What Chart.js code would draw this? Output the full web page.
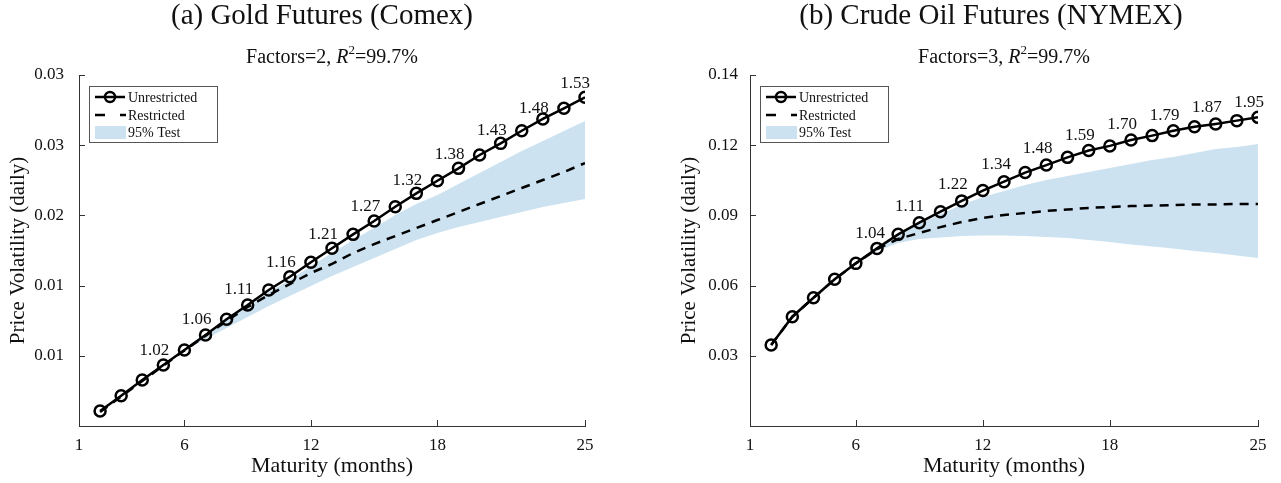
<!DOCTYPE html>
<html>
<head>
<meta charset="utf-8">
<script src="https://cdn.jsdelivr.net/npm/chart.js@4.4.1/dist/chart.umd.min.js"></script>
<style>
  body { margin: 0; background: #fff; }
  #wrap { position: relative; width: 1281px; height: 483px; }
  canvas { position: absolute; top: 0; }
</style>
</head>
<body>
<div id="wrap">
  <canvas id="gold" width="640" height="483" style="left:0"></canvas>
  <canvas id="oil" width="641" height="483" style="left:640px"></canvas>
</div>
<script>
// maturities in months
const months = [2,3,4,5,6,7,8,9,10,11,12,13,14,15,16,17,18,19,20,21,22,23,24,25];
const xTickValues = [1, 6, 12, 18, 25];
const xTickLabels = ["1", "6", "12", "18", "25"];

// (a) gold
const goldUnrestricted = [0.00607,0.00716,0.00828,0.00934,0.01041,0.01148,0.01260,0.01362,0.01469,0.01563,0.01666,0.01766,0.01865,0.01960,0.02062,0.02157,0.02247,0.02335,0.02430,0.02513,0.02603,0.02687,0.02763,0.02841];
const goldRestricted = [0.00600,0.00710,0.00820,0.00930,0.01038,0.01142,0.01248,0.01348,0.01433,0.01511,0.01590,0.01654,0.01732,0.01796,0.01853,0.01910,0.01967,0.02024,0.02081,0.02138,0.02195,0.02252,0.02309,0.02373];
const goldUpper = [0.00600,0.00710,0.00820,0.00930,0.01048,0.01155,0.01262,0.01355,0.01454,0.01540,0.01640,0.01732,0.01825,0.01910,0.02003,0.02081,0.02145,0.02224,0.02302,0.02380,0.02459,0.02530,0.02601,0.02672];
const goldLower = [0.00600,0.00710,0.00820,0.00930,0.01041,0.01120,0.01198,0.01276,0.01355,0.01426,0.01497,0.01568,0.01632,0.01697,0.01761,0.01825,0.01875,0.01917,0.01953,0.01989,0.02024,0.02060,0.02088,0.02117];
const goldYTicks = [0.010, 0.015, 0.020, 0.025, 0.030];
const goldYTickLabels = ["0.01", "0.01", "0.02", "0.03", "0.03"];
const goldLabelMonths = [6,8,10,12,14,16,18,20,22,24,25];
const goldLabels = ["1.02","1.06","1.11","1.16","1.21","1.27","1.32","1.38","1.43","1.48","1.53"];

// (b) crude oil
const oilUnrestricted = [0.0346,0.0467,0.0548,0.0627,0.0695,0.0759,0.0819,0.0869,0.0916,0.0962,0.1006,0.1044,0.1083,0.1115,0.1148,0.1177,0.1197,0.1222,0.1241,0.1262,0.1279,0.1291,0.1305,0.1319];
const oilRestricted = [0.0346,0.0467,0.0548,0.0627,0.0695,0.0756,0.0799,0.0825,0.0850,0.0872,0.0889,0.0902,0.0910,0.0919,0.0925,0.0932,0.0936,0.0940,0.0942,0.0944,0.0947,0.0947,0.0949,0.0949];
const oilUpper = [0.0346,0.0467,0.0548,0.0627,0.0697,0.0756,0.0812,0.0863,0.0906,0.0944,0.0979,0.1004,0.1030,0.1051,0.1068,0.1085,0.1103,0.1120,0.1137,0.1150,0.1167,0.1184,0.1192,0.1205];
const oilLower = [0.0346,0.0467,0.0548,0.0627,0.0693,0.0748,0.0782,0.0799,0.0806,0.0812,0.0814,0.0814,0.0812,0.0808,0.0803,0.0795,0.0786,0.0776,0.0767,0.0759,0.0748,0.0739,0.0729,0.0718];
const oilYTicks = [0.03, 0.06, 0.09, 0.12, 0.15];
const oilYTickLabels = ["0.03", "0.06", "0.09", "0.12", "0.14"];
const oilLabelMonths = [8,10,12,14,16,18,20,22,24,25];
const oilLabels = ["1.04","1.11","1.22","1.34","1.48","1.59","1.70","1.79","1.87","1.95"];

const FONT = "'Liberation Serif', 'Times New Roman', serif";
const BAND = '#cce2f0';

const pts = vals => months.map((m, i) => ({x: m, y: vals[i]}));

// inward tick marks, legend box, value labels and titles
const decor = {
  id: 'decor',
  afterDraw(chart, args, o) {
    const ctx = chart.ctx, ca = chart.chartArea;
    const xs = chart.scales.x, ys = chart.scales.y;
    ctx.save();
    // ticks
    ctx.strokeStyle = '#333'; ctx.lineWidth = 1;
    xTickValues.forEach(v => {
      const px = Math.round(xs.getPixelForValue(v)) + 0.5;
      ctx.beginPath(); ctx.moveTo(px, ca.bottom); ctx.lineTo(px, ca.bottom - 6); ctx.stroke();
    });
    o.yTicks.forEach(v => {
      const py = Math.round(ys.getPixelForValue(v)) + 0.5;
      ctx.beginPath(); ctx.moveTo(ca.left, py); ctx.lineTo(ca.left + 6, py); ctx.stroke();
    });

    // value labels
    const meta = chart.getDatasetMeta(0);
    ctx.fillStyle = '#111';
    ctx.font = '17px ' + FONT;
    ctx.textAlign = 'center'; ctx.textBaseline = 'middle';
    o.labelMonths.forEach((m, i) => {
      const p = meta.data[months.indexOf(m)];
      const off = o.labelOffsets[i];
      ctx.fillText(o.labels[i], p.x + off[0], p.y + off[1]);
    });

    // legend
    const lx = ca.left + 10, ly = ca.top + 11;
    ctx.fillStyle = '#fff';
    ctx.fillRect(lx, ly, 128, 56);
    ctx.strokeStyle = '#555';
    ctx.strokeRect(lx + 0.5, ly + 0.5, 128, 56);
    ctx.strokeStyle = '#000'; ctx.lineWidth = 2.5;
    ctx.beginPath(); ctx.moveTo(lx + 6, ly + 11); ctx.lineTo(lx + 36, ly + 11); ctx.stroke();
    ctx.beginPath(); ctx.arc(lx + 21, ly + 11, 5, 0, Math.PI * 2); ctx.fillStyle = '#fff'; ctx.fill(); ctx.stroke();
    ctx.beginPath(); ctx.moveTo(lx + 21 - 5, ly + 11); ctx.lineTo(lx + 21 + 5, ly + 11); ctx.stroke();
    ctx.setLineDash([10, 15]);
    ctx.beginPath(); ctx.moveTo(lx + 6, ly + 29); ctx.lineTo(lx + 37, ly + 29); ctx.stroke();
    ctx.setLineDash([]);
    ctx.fillStyle = BAND;
    ctx.fillRect(lx + 6, ly + 40, 31, 13);
    ctx.fillStyle = '#111';
    ctx.font = '14px ' + FONT;
    ctx.textAlign = 'left';
    ctx.fillText('Unrestricted', lx + 39, ly + 12);
    ctx.fillText('Restricted', lx + 39, ly + 30);
    ctx.fillText('95% Test', lx + 39, ly + 47);

    // panel title
    ctx.font = '29px ' + FONT;
    ctx.textAlign = 'center';
    ctx.fillText(o.title, o.titleX, 16);

    // subtitle with italic R and superscript
    const parts = [
      {t: 'Factors=' + o.factors + ', ', f: '20px ' + FONT, dy: 0},
      {t: 'R', f: 'italic 20px ' + FONT, dy: 0},
      {t: '2', f: '13px ' + FONT, dy: -7},
      {t: '=99.7%', f: '20px ' + FONT, dy: 0}
    ];
    let w = 0;
    parts.forEach(p => { ctx.font = p.f; p.w = ctx.measureText(p.t).width; w += p.w; });
    let x = (ca.left + ca.right) / 2 - w / 2;
    ctx.textAlign = 'left';
    parts.forEach(p => { ctx.font = p.f; ctx.fillText(p.t, x, 58 + p.dy); x += p.w; });
    ctx.restore();
  }
};

function makeChart(id, d) {
  return new Chart(document.getElementById(id), {
    type: 'line',
    data: {
      datasets: [
        { label: 'Unrestricted', data: pts(d.unr), borderColor: '#000', borderWidth: 2.5,
          pointRadius: 5.5, pointBorderWidth: 2.5, pointBackgroundColor: 'rgba(0,0,0,0)',
          pointBorderColor: '#000', fill: false, order: 0 },
        { label: 'Restricted', data: pts(d.res), borderColor: '#000', borderWidth: 2.5,
          borderDash: [9, 7], pointRadius: 0, fill: false, order: 1 },
        { label: '95% Test', data: pts(d.up), borderWidth: 0, borderColor: 'rgba(0,0,0,0)',
          backgroundColor: BAND, pointRadius: 0, fill: '+1', order: 2 },
        { label: 'lower', data: pts(d.lo), borderWidth: 0, borderColor: 'rgba(0,0,0,0)',
          pointRadius: 0, fill: false, order: 3 }
      ]
    },
    options: {
      responsive: false,
      animation: false,
      devicePixelRatio: 1,
      layout: { padding: d.padding },
      plugins: {
        legend: { display: false },
        tooltip: { enabled: false },
        decor: d.decor
      },
      scales: {
        x: {
          type: 'linear', min: 1, max: 25,
          afterBuildTicks: s => { s.ticks = xTickValues.map(v => ({value: v})); },
          afterFit: s => { s.height = 57; },
          ticks: { callback: (v, i) => xTickLabels[i], font: {family: FONT, size: 17}, color: '#111',
                   padding: 9, maxRotation: 0, autoSkip: false },
          grid: { drawOnChartArea: false, drawTicks: false },
          border: { color: '#333', width: 1 },
          title: { display: true, text: 'Maturity (months)', font: {family: FONT, size: 22},
                   color: '#111', padding: {top: 0, bottom: 4} }
        },
        y: {
          type: 'linear', min: d.ymin, max: d.ymax,
          afterBuildTicks: s => { s.ticks = d.yTicks.map(v => ({value: v})); },
          afterFit: s => { s.width = 79; },
          ticks: { callback: (v, i) => d.yTickLabels[i], font: {family: FONT, size: 17}, color: '#111',
                   padding: d.yPad },
          grid: { drawOnChartArea: false, drawTicks: false },
          border: { color: '#333', width: 1 },
          title: { display: true, text: 'Price Volatility (daily)', font: {family: FONT, size: 21},
                   color: '#111', padding: {top: 6, bottom: 0} }
        }
      }
    },
    plugins: [decor]
  });
}

makeChart('gold', {
  unr: goldUnrestricted, res: goldRestricted, up: goldUpper, lo: goldLower,
  ymin: 0.005, ymax: 0.030, yTicks: goldYTicks, yTickLabels: goldYTickLabels, yPad: 15,
  padding: {left: 0, top: 75, right: 55, bottom: 0},
  decor: {
    yTicks: goldYTicks, labelMonths: goldLabelMonths, labels: goldLabels,
    labelOffsets: [[-30,0],[-30,0],[-30,0],[-30,0],[-30,0],[-30,0],[-30,0],[-30,0],[-30,0],[-30,0],[-10,-14]],
    title: '(a) Gold Futures (Comex)', titleX: 322, factors: 2
  }
});

makeChart('oil', {
  unr: oilUnrestricted, res: oilRestricted, up: oilUpper, lo: oilLower,
  ymin: 0, ymax: 0.15, yTicks: oilYTicks, yTickLabels: oilYTickLabels, yPad: 12,
  padding: {left: 31, top: 75, right: 23, bottom: 0},
  decor: {
    yTicks: oilYTicks, labelMonths: oilLabelMonths, labels: oilLabels,
    labelOffsets: [[-28,-1],[-31,-5],[-30,-6],[-29,-8],[-30,-9],[-30,-10],[-30,-11],[-30,-11],[-30,-13],[-9,-15]],
    title: '(b) Crude Oil Futures (NYMEX)', titleX: 351, factors: 3
  }
});
</script>
</body>
</html>
